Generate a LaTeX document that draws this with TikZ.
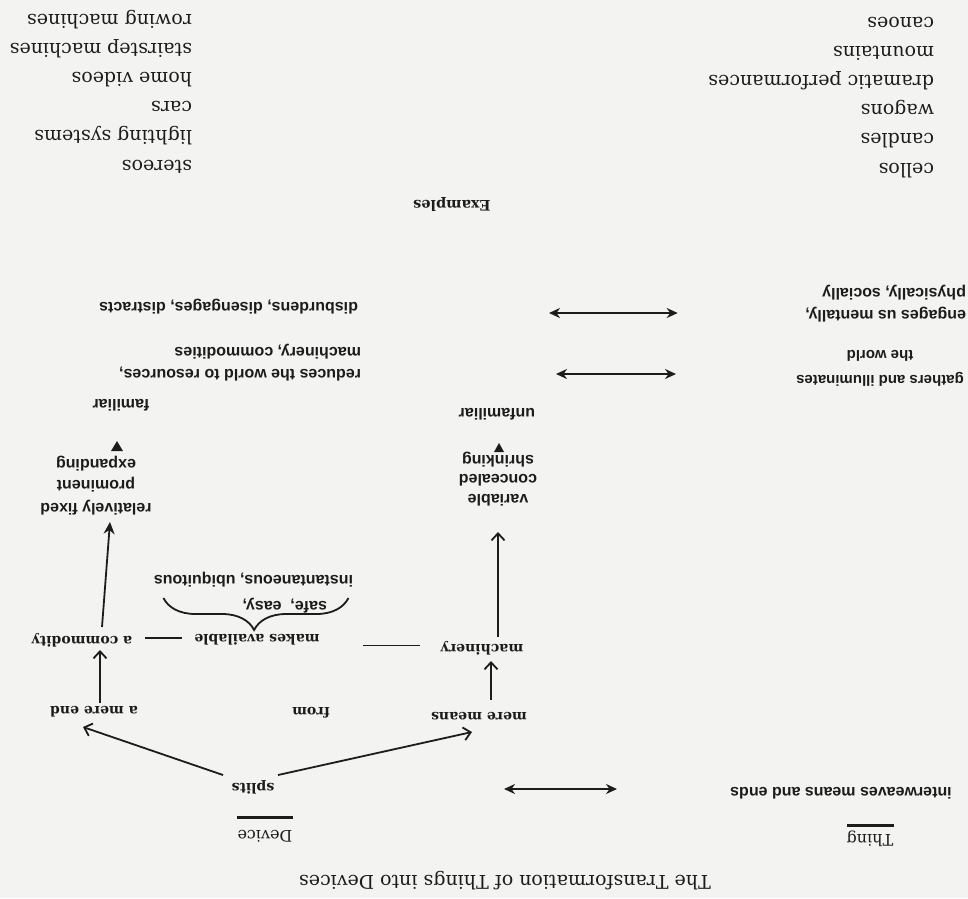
\documentclass[tikz,border=0pt]{standalone}
\usepackage{fontspec}
\usetikzlibrary{arrows.meta,decorations.pathreplacing}
\newfontfamily\exfont{DejaVu Serif}
\newfontfamily\lblsans{Liberation Sans}
\definecolor{paper}{RGB}{243,243,241}
\definecolor{ink}{RGB}{28,28,28}
\begin{document}
\begin{tikzpicture}[x=1pt,y=-1pt,
  every node/.style={rotate=180, inner sep=0pt, outer sep=0pt, text=ink},
  exitem/.style={font=\exfont\fontsize{19}{22}\selectfont, anchor=base west},
  titlefont/.style={font=\exfont\fontsize{19}{22}\selectfont},
  head/.style={font=\exfont\fontsize{16}{20}\selectfont},
  exhead/.style={font=\exfont\bfseries\fontsize{14.5}{16}\selectfont},
  sb/.style={font=\lblsans\bfseries\fontsize{16}{22}\selectfont},
  rb/.style={font=\exfont\bfseries\fontsize{14}{18}\selectfont},
  link/.style={draw=ink, line width=1.8pt},
  barb/.style={link, -{Straight Barb[length=7pt,width=13pt,line width=1.8pt]}},
  solidtip/.style={link, -{Stealth[length=12pt,width=11pt]}},
  twoway/.style={link, {Stealth[length=11pt,width=10pt]}-{Stealth[length=11pt,width=10pt]}},
  headbar/.style={draw=ink, line width=3pt},
]
\useasboundingbox (0,0) rectangle (968,898);
\fill[paper] (0,0) rectangle (968,898);

% title and column heads
\node[titlefont] (title) at (505,881) {The Transformation of Things into Devices};
\node[head] (thing) at (870,839) {Thing};
\node[head] (device) at (265,836) {Device};
\draw[headbar] ([shift={(-23,-14)}]thing.center) -- ([shift={(24,-14)}]thing.center);
\draw[headbar] ([shift={(-28,-19)}]device.center) -- ([shift={(28,-19)}]device.center);

% thing column
\node[sb] (interweave) at (841,793) {interweaves means and ends};
\node[sb, font=\lblsans\bfseries\fontsize{15}{22}\selectfont] (gather1) at (880,379) {gathers and illuminates};
\node[sb, font=\lblsans\bfseries\fontsize{15}{22}\selectfont] (gather2) at (880,356) {the world};
\node[sb, anchor=west] (engage1) at (966,315) {engages us mentally,};
\node[sb, anchor=west] (engage2) at (966,293) {physically, socially};

% device column
\node[rb] (splits) at (253,787) {splits};
\node[rb] (mereend) at (94,712) {a mere end};
\node[rb] (from) at (311,713) {from};
\node[rb] (meremeans) at (479,716) {mere means};
\node[rb] (commodity) at (82,640) {a commodity};
\node[rb] (makes) at (257,640) {makes available};
\node[rb] (machinery) at (482,648) {machinery};

\node[sb, anchor=west] (safe) at (327,606) {safe,\ \ easy,};
\node[sb, anchor=west] (instant) at (353,580) {instantaneous, ubiquitous};

\node[sb] (fixed1) at (96,508) {relatively fixed};
\node[sb] (fixed2) at (96,485) {prominent};
\node[sb] (fixed3) at (96,464) {expanding};
\node[sb] (var1) at (498,500) {variable};
\node[sb] (var2) at (498,480) {concealed};
\node[sb] (var3) at (498,460) {shrinking};
\node[sb] (familiar) at (121,405) {familiar};
\node[sb] (unfamiliar) at (497,414) {unfamiliar};

\node[sb, anchor=west] (reduce1) at (361,374) {reduces the world to resources,};
\node[sb, anchor=west] (reduce2) at (361,352) {machinery, commodities};
\node[sb, anchor=west] (disburden) at (358,307) {disburdens, disengages, distracts};

% examples
\node[exhead] (examples) at (452,204) {Examples};
\foreach \t [count=\i from 0] in {cellos, candles, wagons, dramatic performances, mountains, canoes}
  \node[exitem] (thingex\i) at (934,163-29.2*\i) {\t};
\foreach \t [count=\i from 0] in {stereos, lighting systems, cars, home videos, stairstep machines, rowing machines}
  \node[exitem] (deviceex\i) at (192,160-29.2*\i) {\t};

% connectors of the device column
\draw[barb] ([shift={(-30,-12)}]splits.center) -- ([shift={(-11,15)}]mereend.center);
\draw[barb] ([shift={(25,-12)}]splits.center) -- ([shift={(-7,16)}]meremeans.center);
\draw[barb] ([shift={(6,-9)}]mereend.center) -- ([shift={(18,10)}]commodity.center);
\draw[solidtip] ([shift={(20,-13)}]commodity.center) -- ([shift={(14,14)}]fixed1.center);
\draw[barb] ([shift={(12,-16)}]meremeans.center) -- ([shift={(9,13)}]machinery.center);
\draw[barb] ([shift={(16,-11)}]machinery.center) -- ([shift={(0,32)}]var1.center);
\draw[link, line width=2.4pt] ([shift={(63,-2)}]commodity.center) -- ([shift={(-75,-2)}]makes.center);
\draw[link, line width=1pt] ([shift={(106,5)}]makes.center) -- ([shift={(-62,-3)}]machinery.center);

% brace under "makes available"
\draw[link, decorate, decoration={brace, amplitude=32pt, aspect=0.51}]
  ([shift={(95,18)}]instant.center) -- ([shift={(-90,18)}]instant.center);

% small marks below the lists of qualities
\fill[ink] ([shift={(21,-23)}]fixed3.center) -- ([shift={(15,-13)}]fixed3.center) -- ([shift={(27,-13)}]fixed3.center) -- cycle;
\fill[ink] ([shift={(1,-17)}]var3.center) -- ([shift={(-4,-8)}]var3.center) -- ([shift={(6,-8)}]var3.center) -- cycle;

% comparisons between thing and device
\draw[twoway] ([shift={(-224,-4)}]interweave.center) -- ([shift={(251,2)}]splits.center);
\draw[twoway] ([shift={(-204,-5)}]gather1.center) -- ([shift={(195,0)}]reduce1.west);
\draw[twoway] ([shift={(-208,-2)}]engage1.center) -- ([shift={(191,6)}]disburden.west);
\end{tikzpicture}
\end{document}
